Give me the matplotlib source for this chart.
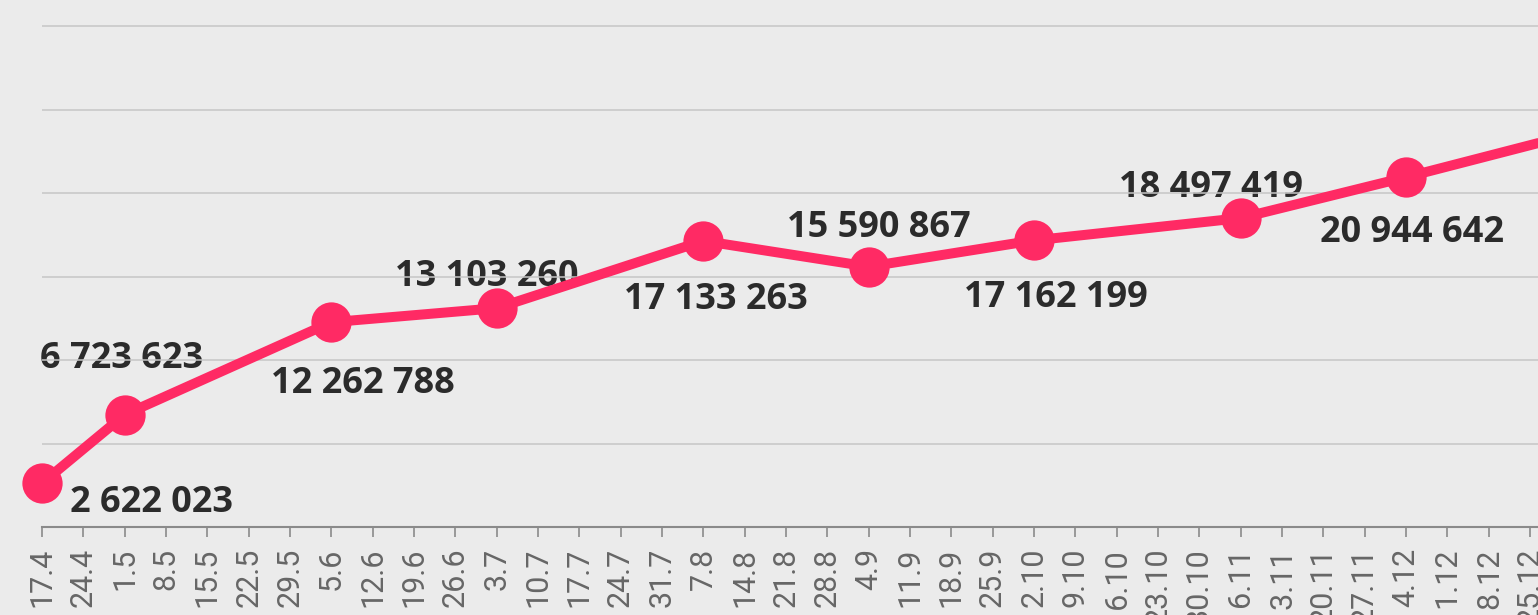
import matplotlib.pyplot as plt
from matplotlib import font_manager

# weekly tick labels (index = week number from 17.4)
week_labels = ["17.4", "24.4", "1.5", "8.5", "15.5", "22.5", "29.5", "5.6", "12.6",
               "19.6", "26.6", "3.7", "10.7", "17.7", "24.7", "31.7", "7.8", "14.8",
               "21.8", "28.8", "4.9", "11.9", "18.9", "25.9", "2.10", "9.10", "16.10",
               "23.10", "30.10", "6.11", "13.11", "20.11", "27.11", "4.12", "11.12",
               "18.12", "25.12"]

# measured points: week index and value (last one lies beyond the right edge)
point_weeks = [0, 2, 7, 11, 16, 20, 24, 29, 33, 37]
point_values = [2622023, 6723623, 12262788, 13103260, 17133263, 15590867,
                17162199, 18497419, 20944642, 23500000]
n_labeled = 9

# label offsets in pixels (dx, dy of baseline)
label_offsets = [(109, -29), (-3, 47), (32, -71), (-10, 22), (13, -68),
                 (10, 30), (22, -67), (-30, 21), (6, -65)]

bg = "#ebebeb"
pink = "#ff2a64"

names = {f.name for f in font_manager.fontManager.ttflist}
tick_font = "Liberation Sans Narrow" if "Liberation Sans Narrow" in names else "Roboto"

fig = plt.figure(figsize=(15.38, 6.15), dpi=100, facecolor=bg)
ax = fig.add_axes([42 / 1538, 1 - 527 / 615, 1 - 42 / 1538, 527 / 615])
ax.set_facecolor(bg)

ax.set_xlim(0, (1538 - 42) / 41.33)
ax.set_ylim(0, 30e6 * 527 / 501)

# grid
for v in range(5_000_000, 30_000_001, 5_000_000):
    ax.axhline(v, color="#c6c6c6", lw=1.1, zorder=2)

ax.plot(point_weeks, point_values, color=pink, lw=7.2, marker="o", markersize=29,
        markeredgewidth=0, zorder=3, clip_on=False, solid_capstyle="butt")

def fmt(v):
    return f"{v:,}".replace(",", " ")

for i in range(n_labeled):
    dx, dy = label_offsets[i]
    ax.annotate(fmt(point_values[i]), (point_weeks[i], point_values[i]),
                xytext=(dx, dy), textcoords="offset pixels", ha="center",
                va="baseline", fontsize=26, fontweight="bold", family="Open Sans",
                color="#2b2b2b", zorder=1)

for s in ["top", "right", "left"]:
    ax.spines[s].set_visible(False)
ax.spines["bottom"].set_color("#8a8a8a")
ax.spines["bottom"].set_linewidth(1.5)

ax.set_yticks([])
ax.set_xticks(range(len(week_labels)))
ax.set_xticklabels(week_labels, rotation=90, family=tick_font, fontsize=22,
                   color="#666666")
ax.tick_params(axis="x", length=7, width=1.2, color="#8a8a8a", pad=8)

fig.savefig("out.png", dpi=100, facecolor=bg)
